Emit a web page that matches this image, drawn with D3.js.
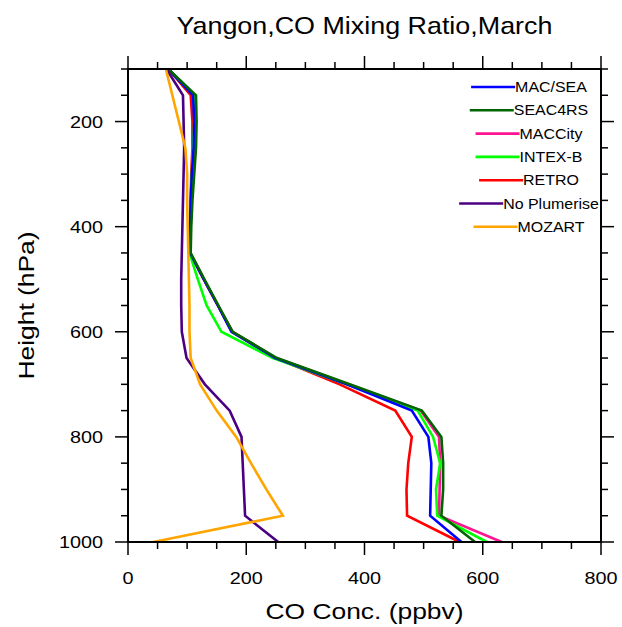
<!DOCTYPE html>
<html>
<head>
<meta charset="utf-8">
<script src="https://cdn.jsdelivr.net/npm/d3@7"></script>
<style>
  body { margin: 0; background: #fff; }
  text { font-family: "Liberation Sans", Arial, Helvetica, sans-serif; fill: #000; }
</style>
</head>
<body>
<div id="viz"></div>
<script>
// pressure levels (hPa)
const levels = [100, 150, 200, 250, 300, 350, 400, 450, 500, 550, 600, 650, 700, 750, 800, 850, 900, 950, 1000];

// CO mixing ratio (ppbv) at each level
const macSea      = [68, 110, 112, 111, 108, 106, 105, 105, 128, 152, 175, 249, 370, 480, 508, 513, 512, 511, 564];
const seac4rs     = [68, 115, 116, 115, 112, 109, 107, 106, 129, 153, 177, 252, 375, 497, 530, 533, 533, 530, 587];
const maccity     = [68, 112, 113, 112, 109, 107, 106, 105, 128, 152, 176, 250, 372, 495, 526, 528, 527, 526, 632];
const intexB      = [68, 112, 112, 110, 108, 106, 105, 104, 118, 133, 158, 245, 370, 490, 516, 528, 521, 523, 607];
const retro       = [68, 106, 109, 109, 107, 106, 105, 105, 128, 152, 177, 250, 358, 452, 480, 474, 471, 472, 561];
const noPlumerise = [65, 93, 94, 95, 94, 93, 92, 91, 90, 90, 91, 99, 130, 172, 192, 194, 196, 198, 254];
const mozart      = [64, 75, 86, 97, 100, 100, 101, 102, 103, 104, 104, 106, 122, 150, 183, 208, 234, 262, 43];

const seriesNames = ['MAC/SEA', 'SEAC4RS', 'MACCity', 'INTEX-B', 'RETRO', 'No Plumerise', 'MOZART'];
const seriesValues = [macSea, seac4rs, maccity, intexB, retro, noPlumerise, mozart];
const seriesColors = ['#0000ff', '#006400', '#ff1493', '#00ff00', '#ff0000', '#4b0082', '#ffa500'];
// draw order (later on top)
const drawOrder = [4, 2, 3, 0, 1, 5, 6];

const xTicks = [0, 200, 400, 600, 800];
const yTicks = [200, 400, 600, 800, 1000];

const width = 622, height = 627;
const mLeft = 128, mRight = 601, mTop = 69, mBottom = 542;

const svg = d3.select('#viz').append('svg')
  .attr('width', width)
  .attr('height', height);

const x = d3.scaleLinear().domain([0, 800]).range([mLeft, mRight]);
const y = d3.scaleLinear().domain([100, 1000]).range([mTop, mBottom]);

// stretched text helper (the original fonts are wider than Liberation Sans)
function label(g, str, px, py, size, anchor, sx, rotate) {
  return g.append('text')
    .attr('transform', `translate(${px},${py})` + (rotate ? ` rotate(${rotate})` : '') + ` scale(${sx},1)`)
    .attr('text-anchor', anchor)
    .style('font-size', size + 'px')
    .text(str);
}

// ticks, outward on all four sides
const minorX = d3.range(0, 801, 50).filter(v => v % 200 !== 0);
const minorY = d3.range(100, 1001, 50).filter(v => v % 200 !== 0);
const tickG = svg.append('g').attr('stroke', '#000').attr('stroke-width', 1.5);

function xTick(v, len) {
  tickG.append('line').attr('x1', x(v)).attr('x2', x(v)).attr('y1', mBottom).attr('y2', mBottom + len);
  tickG.append('line').attr('x1', x(v)).attr('x2', x(v)).attr('y1', mTop).attr('y2', mTop - len);
}
function yTick(v, len) {
  tickG.append('line').attr('y1', y(v)).attr('y2', y(v)).attr('x1', mLeft).attr('x2', mLeft - len);
  tickG.append('line').attr('y1', y(v)).attr('y2', y(v)).attr('x1', mRight).attr('x2', mRight + len);
}
xTicks.forEach(v => xTick(v, 13));
minorX.forEach(v => xTick(v, 7));
yTicks.forEach(v => yTick(v, 13));
minorY.forEach(v => yTick(v, 7));

// tick labels
xTicks.forEach(v => label(svg, String(v), x(v), 584, 16, 'middle', 1.24));
yTicks.forEach(v => label(svg, String(v), 103, y(v) + 6, 16, 'end', 1.24));

// lines
const line = d3.line()
  .x(d => x(d[0]))
  .y(d => y(d[1]));

const lineG = svg.append('g').attr('fill', 'none').attr('stroke-width', 2.6).attr('stroke-linejoin', 'miter');
drawOrder.forEach(i => {
  lineG.append('path')
    .attr('stroke', seriesColors[i])
    .attr('d', line(seriesValues[i].map((v, j) => [v, levels[j]])));
});

// frame
svg.append('rect')
  .attr('x', mLeft).attr('y', mTop)
  .attr('width', mRight - mLeft).attr('height', mBottom - mTop)
  .attr('fill', 'none').attr('stroke', '#000').attr('stroke-width', 2);

// legend
const legendG = svg.append('g');
seriesNames.forEach((name, i) => {
  const ly = 87 + i * 23.3;
  const t = label(legendG, name, 551, ly + 5, 14, 'middle', 1.14);
  const w = t.node().getComputedTextLength() * 1.14;
  const x1 = 551 - w / 2;
  legendG.append('line')
    .attr('x1', x1 - 44).attr('x2', x1)
    .attr('y1', ly).attr('y2', ly)
    .attr('stroke', seriesColors[i]).attr('stroke-width', 2.6);
});

// titles
label(svg, 'Yangon,CO Mixing Ratio,March', 364.5, 34, 24, 'middle', 1.12);
label(svg, 'CO  Conc. (ppbv)', 364.5, 619, 22, 'middle', 1.2);
label(svg, 'Height (hPa)', 34, 305.5, 22, 'middle', 1.2, -90);
</script>
</body>
</html>
